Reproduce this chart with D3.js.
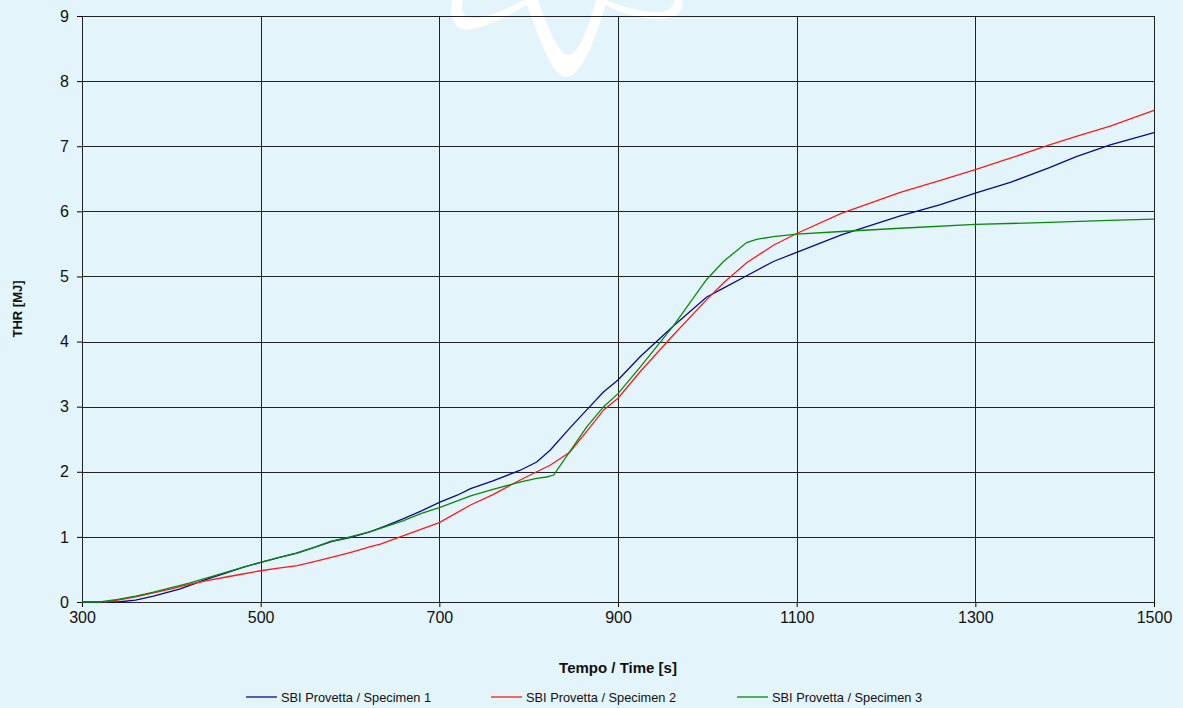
<!DOCTYPE html>
<html><head><meta charset="utf-8">
<script src="https://cdn.jsdelivr.net/npm/d3@7"></script>
<style>
html,body{margin:0;padding:0;background:#E3F4FB;}
svg{display:block;font-family:"Liberation Sans",Arial,sans-serif;}
</style></head>
<body>
<svg id="chart" width="1183" height="708"></svg>
<script>
const xTicks = [300, 500, 700, 900, 1100, 1300, 1500];
const yTicks = [0,1,2,3,4,5,6,7,8,9];
const seriesNames = ["SBI Provetta / Specimen 1","SBI Provetta / Specimen 2","SBI Provetta / Specimen 3"];
const seriesColors = ["#0A0A8C","#FF1A1A","#0A8A0A"];
const xTitle = "Tempo / Time [s]";
const yTitle = "THR [MJ]";

const spec1 = [[300,0],[340,0],[360,0.03],[380,0.09],[410,0.2],[440,0.35],[460,0.44],[480,0.53],[500,0.61],[520,0.68],[540,0.75],[560,0.84],[580,0.93],[600,0.99],[623,1.08],[640,1.17],[660,1.28],[680,1.40],[700,1.53],[720,1.64],[735,1.74],[760,1.86],[790,2.02],[809,2.15],[824,2.33],[846,2.67],[865,2.95],[884,3.23],[900,3.41],[925,3.77],[962,4.24],[999,4.68],[1018,4.82],[1044,5.01],[1074,5.23],[1100,5.37],[1150,5.64],[1216,5.93],[1260,6.10],[1300,6.28],[1340,6.45],[1383,6.67],[1413,6.84],[1451,7.02],[1500,7.21]];
const spec2 = [[325,0],[340,0.03],[360,0.08],[380,0.14],[400,0.2],[420,0.27],[440,0.33],[460,0.38],[480,0.43],[500,0.48],[520,0.52],[541,0.56],[560,0.62],[578,0.68],[600,0.76],[623,0.85],[634,0.89],[660,1.02],[680,1.12],[700,1.22],[735,1.49],[760,1.65],[790,1.87],[809,2.0],[824,2.10],[846,2.30],[865,2.62],[884,2.95],[900,3.13],[925,3.54],[962,4.10],[999,4.64],[1018,4.9],[1044,5.21],[1074,5.48],[1100,5.66],[1150,5.97],[1216,6.29],[1260,6.47],[1300,6.64],[1340,6.82],[1383,7.02],[1413,7.15],[1451,7.31],[1500,7.55]];
const spec3 = [[300,0],[320,0],[340,0.04],[360,0.09],[380,0.15],[400,0.22],[420,0.29],[440,0.37],[460,0.45],[480,0.53],[500,0.61],[520,0.68],[541,0.75],[560,0.84],[578,0.93],[600,1.0],[623,1.08],[634,1.13],[660,1.25],[680,1.36],[700,1.45],[735,1.63],[760,1.73],[790,1.84],[809,1.90],[820,1.92],[828,1.95],[846,2.31],[865,2.69],[884,3.0],[900,3.2],[925,3.61],[962,4.24],[999,4.95],[1018,5.23],[1044,5.52],[1055,5.57],[1074,5.61],[1100,5.65],[1150,5.69],[1216,5.74],[1300,5.80],[1383,5.83],[1450,5.86],[1500,5.88]];
const allSeries = [spec1, spec2, spec3];

const svg = d3.select("#chart");
const W = 1183, H = 708;
const m = {left:82, right:1154, top:16, bottom:602};

svg.append("rect").attr("width",W).attr("height",H).attr("fill","#E3F4FB");

// watermark (decorative)
const wm = svg.append("g").attr("fill","#ffffff").attr("stroke","none");
wm.append("path").attr("d","M452,0 C450,14 452,26 462,29 C478,32 505,18 528,4 L524,0 C505,10 482,20 470,18 C462,16 461,8 463,0 Z");
wm.append("path").attr("d","M525,0 C540,40 552,77 566,77 C582,77 597,35 607,0 L596,0 C588,30 578,55 568,55 C560,55 548,30 538,0 Z");
wm.append("path").attr("d","M598,0 C615,12 640,20 662,19 C680,18 684,8 682,0 L674,0 C674,8 668,12 658,12 C640,12 620,6 606,0 Z");

const x = d3.scaleLinear().domain([300,1500]).range([m.left,m.right]);
const y = d3.scaleLinear().domain([0,9]).range([m.bottom,m.top]);

// grid
const grid = svg.append("g");
grid.selectAll("line.h").data(yTicks).enter().append("line")
  .attr("x1",m.left).attr("x2",m.right).attr("y1",d=>Math.round(y(d))+0.5).attr("y2",d=>Math.round(y(d))+0.5)
  .attr("stroke","#222").attr("stroke-width",1);
grid.selectAll("line.v").data(xTicks).enter().append("line")
  .attr("y1",m.top).attr("y2",m.bottom).attr("x1",d=>Math.round(x(d))+0.5).attr("x2",d=>Math.round(x(d))+0.5)
  .attr("stroke","#222").attr("stroke-width",1);

// axes
const xAxis = svg.append("g").attr("transform",`translate(0,${m.bottom})`)
  .call(d3.axisBottom(x).tickValues(xTicks).tickFormat(d3.format("d")).tickSize(5).tickSizeOuter(0).tickPadding(5));
const yAxis = svg.append("g").attr("transform",`translate(${m.left},0)`)
  .call(d3.axisLeft(y).tickValues(yTicks).tickFormat(d3.format("d")).tickSize(5).tickSizeOuter(0).tickPadding(8));
[xAxis,yAxis].forEach(a=>{
  a.select(".domain").remove();
  a.selectAll("line").attr("stroke","#000");
  a.selectAll("text").attr("font-size",16).attr("fill","#111").attr("font-family","'Liberation Sans',Arial,sans-serif");
});

// lines
const line = d3.line().x(d=>x(d[0])).y(d=>y(d[1]));
svg.append("g").selectAll("path").data(allSeries).enter().append("path")
  .attr("d",line).attr("fill","none")
  .attr("stroke",(d,i)=>seriesColors[i]).attr("stroke-width",1.3);

// titles
svg.append("text").attr("x",(m.left+m.right)/2).attr("y",673).attr("text-anchor","middle")
  .attr("font-size",15).attr("font-weight","bold").attr("fill","#111").text(xTitle);
svg.append("text").attr("transform",`translate(22,${(m.top+m.bottom)/2}) rotate(-90)`).attr("text-anchor","middle")
  .attr("font-size",13).attr("font-weight","bold").attr("fill","#111").text(yTitle);

// legend
const lg = svg.append("g");
const legendX = [246, 491, 737];
seriesNames.forEach((n,i)=>{
  const g = lg.append("g").attr("transform",`translate(${legendX[i]},697)`);
  g.append("line").attr("x1",0).attr("x2",31).attr("y1",0).attr("y2",0)
   .attr("stroke",seriesColors[i]).attr("stroke-width",1.3);
  g.append("text").attr("x",35).attr("y",4.5).attr("font-size",12.8).attr("fill","#111").text(n);
});
</script>
</body></html>
